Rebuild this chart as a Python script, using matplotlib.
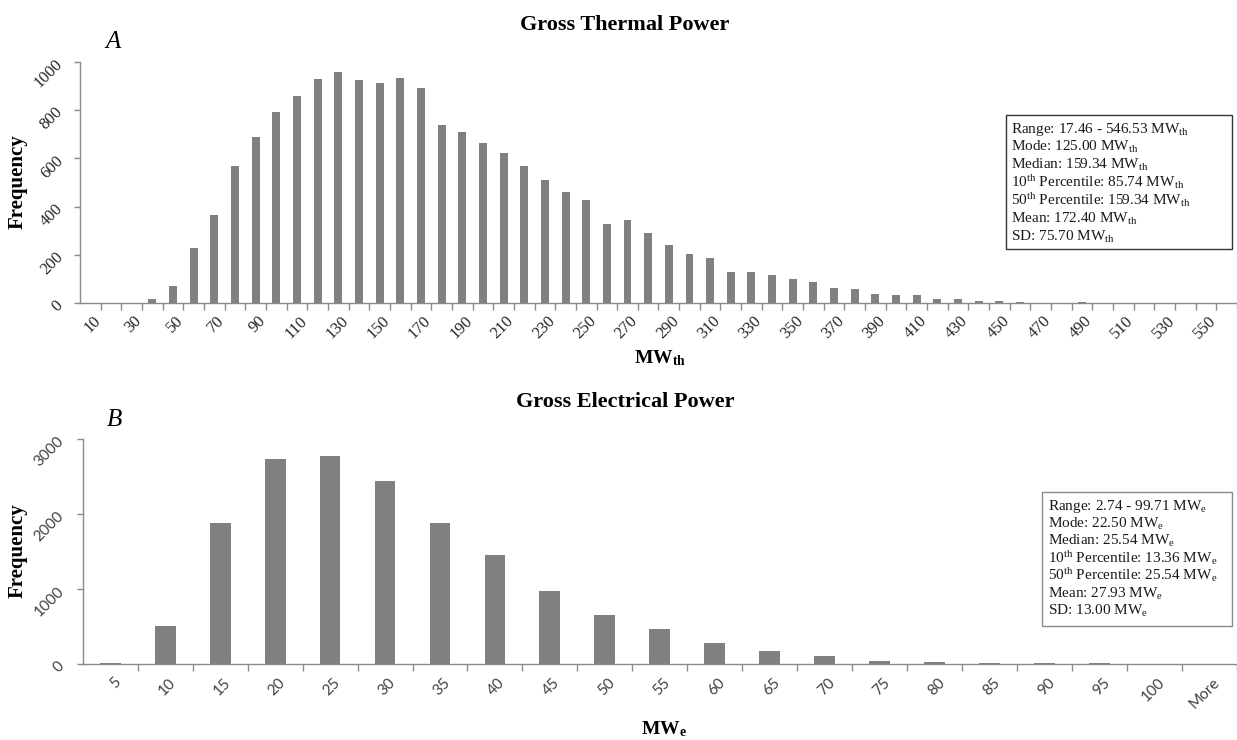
import matplotlib
matplotlib.use('Agg')
import matplotlib.pyplot as plt
from matplotlib.patches import Rectangle
from matplotlib.transforms import ScaledTranslation
import numpy as np

plt.rcParams['mathtext.fontset'] = 'custom'
plt.rcParams['mathtext.rm'] = 'Liberation Serif'
plt.rcParams['mathtext.it'] = 'Liberation Serif:italic'
plt.rcParams['mathtext.bf'] = 'Liberation Serif:bold'
plt.rcParams['font.family'] = ['Liberation Serif', 'DejaVu Serif']

# ---------------- data ----------------
thermal_bins = ["10", "20", "30", "40", "50", "60", "70", "80", "90", "100",
                "110", "120", "130", "140", "150", "160", "170", "180", "190", "200",
                "210", "220", "230", "240", "250", "260", "270", "280", "290", "300",
                "310", "320", "330", "340", "350", "360", "370", "380", "390", "400",
                "410", "420", "430", "440", "450", "460", "470", "480", "490", "500",
                "510", "520", "530", "540", "550", "More"]
thermal_freq = [0, 0, 0, 18, 73, 228, 364, 569, 689, 793,
                858, 927, 957, 924, 911, 933, 890, 738, 710, 662,
                623, 568, 510, 460, 426, 329, 343, 292, 241, 205,
                189, 131, 131, 118, 102, 89, 65, 58, 37, 34,
                34, 18, 18, 8, 10, 6, 3, 0, 4, 0,
                0, 0, 0, 0, 0, 0]
thermal_yticks = [0, 200, 400, 600, 800, 1000]

elec_bins = ["5", "10", "15", "20", "25", "30", "35", "40", "45", "50",
             "55", "60", "65", "70", "75", "80", "85", "90", "95", "100", "More"]
elec_freq = [12, 507, 1880, 2733, 2781, 2440, 1880, 1453, 981, 653,
             471, 284, 182, 111, 40, 31, 22, 13, 11, 10, 0]
elec_yticks = [0, 1000, 2000, 3000]

thermal_stats = [r"Range: 17.46 - 546.53 MW$_{\mathrm{th}}$",
                 r"Mode: 125.00 MW$_{\mathrm{th}}$",
                 r"Median: 159.34 MW$_{\mathrm{th}}$",
                 r"10$^{\mathrm{th}}$ Percentile: 85.74 MW$_{\mathrm{th}}$",
                 r"50$^{\mathrm{th}}$ Percentile: 159.34 MW$_{\mathrm{th}}$",
                 r"Mean: 172.40 MW$_{\mathrm{th}}$",
                 r"SD: 75.70 MW$_{\mathrm{th}}$"]
elec_stats = [r"Range: 2.74 - 99.71 MW$_{\mathrm{e}}$",
              r"Mode: 22.50 MW$_{\mathrm{e}}$",
              r"Median: 25.54 MW$_{\mathrm{e}}$",
              r"10$^{\mathrm{th}}$ Percentile: 13.36 MW$_{\mathrm{e}}$",
              r"50$^{\mathrm{th}}$ Percentile: 25.54 MW$_{\mathrm{e}}$",
              r"Mean: 27.93 MW$_{\mathrm{e}}$",
              r"SD: 13.00 MW$_{\mathrm{e}}$"]

# ---------------- layout ----------------
W, H = 1237, 740
fig = plt.figure(figsize=(W / 100, H / 100), dpi=100)
fig.patch.set_facecolor('white')

BAR = '#808080'
AXC = '#8a8a8a'

def px_axes(left, top, right, bottom):
    return fig.add_axes([left / W, 1 - bottom / H, (right - left) / W, (bottom - top) / H])

def style(ax):
    for s in ['top', 'right']:
        ax.spines[s].set_visible(False)
    for s in ['left', 'bottom']:
        ax.spines[s].set_color(AXC)
        ax.spines[s].set_linewidth(1.0)
    ax.tick_params(axis='y', which='major', length=4, color=AXC, width=1)
    ax.tick_params(axis='x', which='major', length=0)
    ax.tick_params(axis='x', which='minor', length=5, color=AXC, width=1)

def shift_labels(labels, dx_px, dy_px):
    for lab in labels:
        lab.set_transform(lab.get_transform() +
                          ScaledTranslation(dx_px / 100, dy_px / 100, fig.dpi_scale_trans))

# ---- Top chart ----
ax1 = px_axes(80, 61.7, W, 303.3)
x1 = np.arange(len(thermal_bins))
ax1.bar(x1, thermal_freq, width=0.385, color=BAR, edgecolor='none')
ax1.set_xlim(-0.5, -0.5 + (W - 80) / 20.78)
ax1.set_ylim(0, 1000)
style(ax1)
ax1.set_xticks(x1[0:55:2])
ax1.set_xticklabels([thermal_bins[i] for i in range(0, 55, 2)], rotation=45,
                    ha='right', va='top', rotation_mode='anchor',
                    fontsize=12, color='#262626', family='Liberation Serif')
ax1.set_xticks(np.arange(len(thermal_bins)) + 0.5, minor=True)
ax1.tick_params(axis='x', which='major', pad=7)
shift_labels(ax1.get_xticklabels(), 2, 0)
ax1.set_yticks(thermal_yticks)
ax1.set_yticklabels([str(v) for v in thermal_yticks], rotation=45, ha='right',
                    va='center', rotation_mode='anchor', fontsize=12,
                    color='#262626', family='Liberation Serif')
ax1.tick_params(axis='y', pad=10)

fig.text(625 / W, 1 - 25 / H, "Gross Thermal Power", ha='center', va='center',
         fontsize=16, fontweight='bold', color='black')
fig.text(113 / W, 1 - 42 / H, "A", ha='center', va='center', fontsize=18,
         style='italic', color='black')
fig.text(18 / W, 1 - 182 / H, "Frequency", ha='center', va='center', rotation=90,
         fontsize=15, fontweight='bold', color='black')
fig.text(660 / W, 1 - 358 / H, r"MW$_{\mathbf{th}}$", ha='center', va='center',
         fontsize=14, fontweight='bold', color='black')

# ---- Bottom chart ----
ax2 = px_axes(82.7, 439.3, W, 664.3)
x2 = np.arange(len(elec_bins))
ax2.bar(x2, elec_freq, width=0.38, color=BAR, edgecolor='none')
ax2.set_xlim(-0.5, -0.5 + (W - 82.7) / 55.33)
ax2.set_ylim(0, 3000)
style(ax2)
ax2.set_xticks(x2)
ax2.set_xticklabels(elec_bins, rotation=45, ha='right', va='top',
                    rotation_mode='anchor', fontsize=11, color='#404040',
                    family='Lato')
ax2.set_xticks(x2 + 0.5, minor=True)
ax2.tick_params(axis='x', which='major', pad=8)
shift_labels(ax2.get_xticklabels(), 3, 0)
ax2.set_yticks(elec_yticks)
ax2.set_yticklabels([str(v) for v in elec_yticks], rotation=45, ha='right',
                    va='center', rotation_mode='anchor', fontsize=11,
                    color='#404040', family='Lato')
ax2.tick_params(axis='y', pad=11)

fig.text(625 / W, 1 - 402 / H, "Gross Electrical Power", ha='center', va='center',
         fontsize=16, fontweight='bold', color='black')
fig.text(114 / W, 1 - 420 / H, "B", ha='center', va='center', fontsize=18,
         style='italic', color='black')
fig.text(18 / W, 1 - 551 / H, "Frequency", ha='center', va='center', rotation=90,
         fontsize=15, fontweight='bold', color='black')
fig.text(664 / W, 1 - 729 / H, r"MW$_{\mathbf{e}}$", ha='center', va='center',
         fontsize=14, fontweight='bold', color='black')

# ---- Stats boxes ----
def stats_box(lines, left, top, right, bottom, text_left, first_y, step, ec, fs):
    fig.add_artist(Rectangle((left / W, 1 - bottom / H), (right - left) / W,
                             (bottom - top) / H, transform=fig.transFigure,
                             facecolor='white', edgecolor=ec, linewidth=1.0))
    for i, s in enumerate(lines):
        fig.text(text_left / W, 1 - (first_y + i * step) / H, s, ha='left',
                 va='baseline', fontsize=fs, color='#1a1a1a')

stats_box(thermal_stats, 1005.7, 115, 1232.3, 249.3, 1010.7, 133, 18.0, '#333333', 11)
stats_box(elec_stats, 1042.3, 491.7, 1231.7, 626, 1048.3, 510, 17.5, '#8a8a8a', 11)

fig.savefig('out.png', dpi=100, facecolor='white')
